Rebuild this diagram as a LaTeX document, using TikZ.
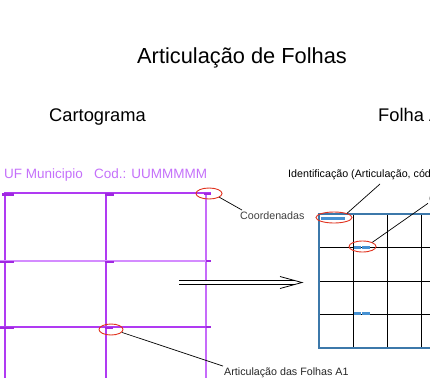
\documentclass[tikz,border=0pt]{standalone}
\usepackage{fontspec}
\setmainfont{Liberation Sans}
\usetikzlibrary{shapes.geometric}
\definecolor{roxo}{RGB}{176,58,242}
\definecolor{roxoescuro}{RGB}{160,40,225}
\definecolor{roxoclaro}{RGB}{212,140,255}
\definecolor{roxotexto}{RGB}{196,112,250}
\definecolor{azul}{RGB}{60,120,170}
\definecolor{azulmarca}{RGB}{70,145,210}
\definecolor{vermelho}{RGB}{225,50,30}
\tikzset{
  marca/.style={roxoescuro,line width=2.5pt},
  linha/.style={draw=roxo,line width=1.3pt},
  elipse/.style={ellipse,draw=vermelho,line width=0.9pt,inner sep=0pt},
  rotulo/.style={anchor=base west,inner sep=1pt,font=\fontsize{10.7}{12}\selectfont},
  guia/.style={black,line width=0.7pt}
}
\begin{document}
\begin{tikzpicture}[x=1pt,y=-1pt]
\useasboundingbox (0,0) rectangle (430,378);
\node[anchor=base west,inner sep=0pt,font=\fontsize{21.8}{24}\selectfont] (titulo) at (137,63) {Articulação de Folhas};
\node[anchor=base west,inner sep=0pt,font=\fontsize{18.3}{21}\selectfont] (cartograma) at (49,121) {Cartograma};
\node[anchor=base west,inner sep=0pt,font=\fontsize{18.3}{21}\selectfont] (folha) at (378,121) {Folha A1};

% cartograma
\node[anchor=base west,inner sep=0pt,text=roxotexto,font=\fontsize{13.5}{16}\selectfont] (uf) at (4,178) {UF Municipio\ \ \ Cod.: UUMMMMM};
\draw[linha] (5,192) -- (5,378);
\draw[linha] (106,192) -- (106,378);
\draw[linha,draw=roxoclaro!60!roxo] (206,192) -- (206,378);
\draw[linha] (5,193) -- (211,193);
\draw[linha,draw=roxoclaro] (0,261) -- (211,261);
\draw[linha] (0,327) -- (211,327);
\draw[marca] (2,194.5) -- (14,194.5);
\draw[marca] (105,194.5) -- (114,194.5);
\draw[marca] (204,194) -- (211,194);
\draw[marca] (0,262) -- (14,262);
\draw[marca] (105,262) -- (114,262);
\draw[marca] (206,261) -- (211,261);
\draw[marca] (0,328) -- (14,328);
\draw[marca] (105,328) -- (113,328);
\draw[marca] (206,327) -- (211,327);

\node[elipse,minimum width=26pt,minimum height=11pt] (coordE) at (209,193.5) {};
\node[elipse,minimum width=24pt,minimum height=11pt] (articE) at (111,329.5) {};
\node[rotulo,text=black!75] (coord) at (239,219) {Coordenadas};
\node[rotulo,text=black!85] (artic) at (223,375) {Articulação das Folhas A1};
\draw[guia] (coordE.-20) -- ([xshift=3pt]coord.north west);
\draw[guia] (articE.-15) -- (artic.north west);

% seta
\coordinate (setaA) at (179,282.5);
\coordinate (setaB) at (302,282.5);
\draw[line width=0.8pt,double distance=3.6pt] (setaA) -- ([xshift=-8pt]setaB);
\draw[line width=0.8pt] ([xshift=-22pt,yshift=6pt]setaB) -- (setaB) -- ([xshift=-22pt,yshift=-6pt]setaB);

% folha
\foreach \x in {353,387,421}
  \draw[black,line width=0.9pt] (\x,214) -- (\x,348);
\foreach \y in {247.5,281,314.5}
  \draw[black,line width=0.9pt] (319,\y) -- (440,\y);
\draw[azul,line width=1.3pt] (440,214) -- (319,214) -- (319,348) -- (440,348);
\fill[azulmarca] (321,216.5) rectangle (345,219.5);
\fill[azulmarca] (354,245.5) rectangle (361,248.5);
\fill[azulmarca] (362,245.5) rectangle (370,248.5);
\fill[azulmarca] (354,312) rectangle (361,315);
\fill[azulmarca] (362,312) rectangle (370,315);

\node[elipse,minimum width=36pt,minimum height=11pt] (identE) at (334,217.5) {};
\node[elipse,minimum width=27pt,minimum height=11pt] (coordE2) at (362.5,246.5) {};
\node[rotulo,text=black] (ident) at (287,177) {Identificação (Articulação, código)};
\node[rotulo,text=black!75] (coord2) at (428,202) {Coordenadas};
\coordinate (identP) at (380,184);
\draw[guia] (identE.north east) -- (identP);
\draw[guia] (coordE2.north east) -- (coord2.south west);
\end{tikzpicture}
\end{document}
